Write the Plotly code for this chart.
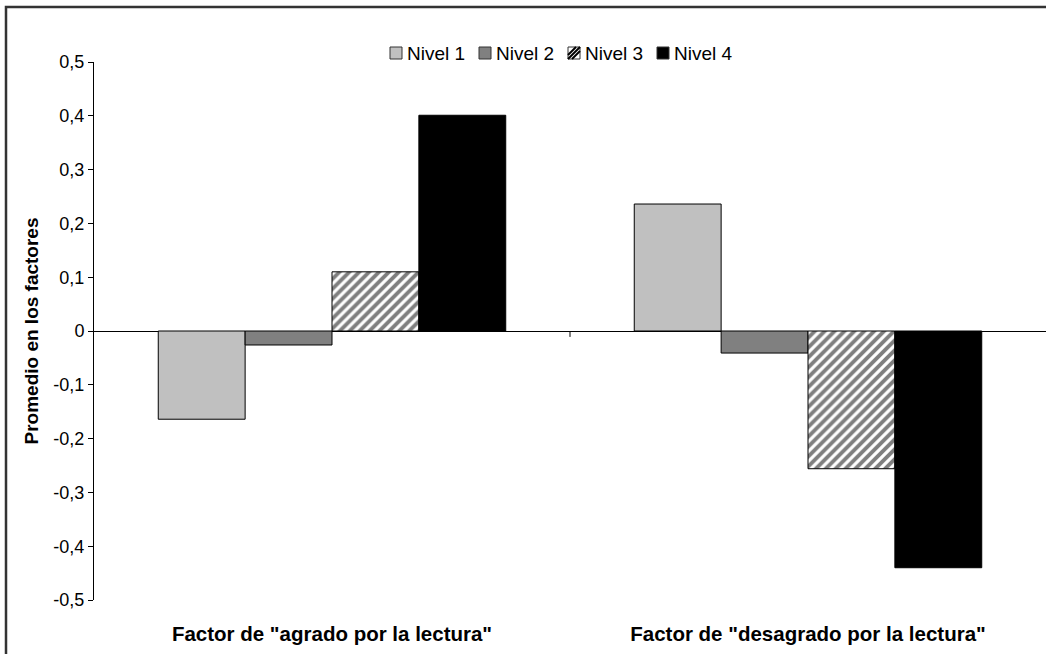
import plotly.graph_objects as go

# Category labels and mean factor scores per reading level
categories = ['Factor de "agrado por la lectura"', 'Factor de "desagrado por la lectura"']
series_names = ["Nivel 1", "Nivel 2", "Nivel 3", "Nivel 4"]
nivel_1 = [-0.164, 0.236]
nivel_2 = [-0.026, -0.041]
nivel_3 = [0.110, -0.256]
nivel_4 = [0.401, -0.440]

y_tick_values = [0.5, 0.4, 0.3, 0.2, 0.1, 0, -0.1, -0.2, -0.3, -0.4, -0.5]
y_tick_labels = ["0,5", "0,4", "0,3", "0,2", "0,1", "0", "-0,1", "-0,2", "-0,3", "-0,4", "-0,5"]

W, H = 1046, 654
ML, MR, MT, MB = 94, 0, 62, 54
PW, PH = W - ML - MR, H - MT - MB
FONT = "Liberation Sans, Arial, sans-serif"


def px_x(px):
    """Pixel column -> paper x."""
    return (px - ML) / PW


def px_y(py):
    """Pixel row -> paper y."""
    return (H - MB - py) / PH


fig = go.Figure()

fills = ["#c0c0c0", "#808080", "white", "black"]
hatched = [False, False, True, False]
for name, vals, fill, hatch in zip(series_names, [nivel_1, nivel_2, nivel_3, nivel_4], fills, hatched):
    marker = dict(color=fill, line=dict(color="black", width=1))
    if hatch:
        marker["pattern"] = dict(shape="/", fgcolor="black", bgcolor="white",
                                 size=7, solidity=0.55, fillmode="overlay")
    fig.add_trace(go.Bar(x=categories, y=vals, name=name, marker=marker, showlegend=False))

fig.update_layout(
    width=W, height=H,
    margin=dict(l=ML, r=MR, t=MT, b=MB, pad=0),
    paper_bgcolor="white", plot_bgcolor="white",
    barmode="group", bargap=0.27, bargroupgap=0,
    separators=",.",
    font=dict(family=FONT, color="black"),
    showlegend=False,
)

fig.update_xaxes(
    type="category", range=[-0.5, 1.5],
    showline=False, showgrid=False, zeroline=False, ticks="",
    tickfont=dict(size=20.5, family=FONT, weight="bold"),
    ticklabelstandoff=19,
)
fig.update_yaxes(
    range=[-0.5, 0.5], tickvals=y_tick_values, ticktext=y_tick_labels,
    showline=True, linecolor="black", linewidth=1,
    ticks="outside", ticklen=5, tickcolor="black", tickwidth=1,
    showgrid=False, zeroline=True, zerolinecolor="black", zerolinewidth=1,
    tickfont=dict(size=18),
    title=dict(text="<b>Promedio en los factores</b>", font=dict(size=19), standoff=9),
)

# Tick mark on the zero line separating the two categories
fig.add_shape(type="line", xref="x", yref="y", x0=0.5, x1=0.5, y0=0, y1=-0.011,
              line=dict(color="black", width=1))

# Legend row: small swatch boxes followed by the series names
LEG_X0, LEG_STEP, LEG_Y, BOX = 390, 89, 53, 12
for i, (name, fill, hatch) in enumerate(zip(series_names, fills, hatched)):
    bx0 = LEG_X0 + i * LEG_STEP
    bx1 = bx0 + BOX
    by0, by1 = LEG_Y - BOX / 2, LEG_Y + BOX / 2
    fig.add_shape(type="rect", xref="paper", yref="paper",
                  x0=px_x(bx0), x1=px_x(bx1), y0=px_y(by1), y1=px_y(by0),
                  fillcolor=fill, line=dict(color="#333333", width=1))
    if hatch:
        for off in (-4, 0, 4):
            # diagonal stripe clipped to the swatch box
            xa, ya = bx0 + max(0, off), by1 - max(0, -off)
            xb, yb = bx1 - max(0, -off), by0 + max(0, off)
            fig.add_shape(type="line", xref="paper", yref="paper",
                          x0=px_x(xa), y0=px_y(ya), x1=px_x(xb), y1=px_y(yb),
                          line=dict(color="black", width=2))
    fig.add_annotation(xref="paper", yref="paper", x=px_x(bx1 + 3), y=px_y(LEG_Y),
                       text=name, showarrow=False, xanchor="left", yanchor="middle",
                       font=dict(size=19, family=FONT, color="black"))

# Outer chart frame
fig.add_shape(type="rect", xref="paper", yref="paper",
              x0=px_x(6), x1=1.2, y0=-0.3, y1=px_y(7),
              line=dict(color="#333333", width=2.5), fillcolor="rgba(0,0,0,0)", layer="below")

fig.write_html("out.html")
